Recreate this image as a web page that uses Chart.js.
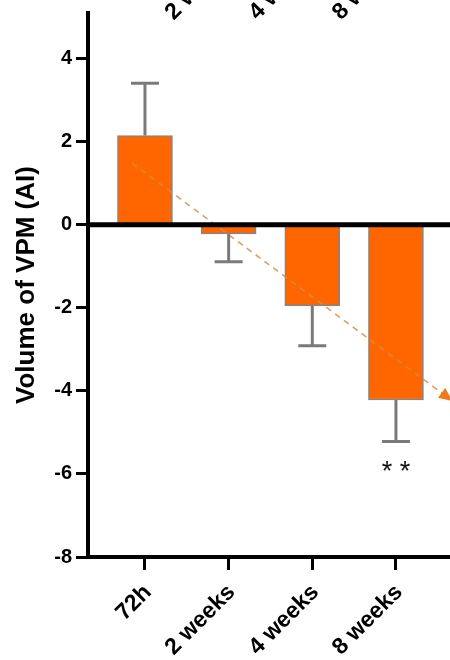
<!DOCTYPE html>
<html>
<head>
<meta charset="utf-8">
<script src="https://cdn.jsdelivr.net/npm/chart.js@4.4.1/dist/chart.umd.min.js"></script>
<style>
  html, body { margin: 0; padding: 0; background: #fff; }
  #wrap { width: 450px; height: 660px; }
</style>
</head>
<body>
<div id="wrap"><canvas id="vpmChart" width="450" height="660"></canvas></div>
<script>
// values
const timepoints = ['72h', '2 weeks', '4 weeks', '8 weeks'];
const vpmMean = [2.15, -0.22, -1.95, -4.22];
const vpmErr = [1.26, 0.67, 0.96, 1.0];
const significance = ['', '', '', '* *'];
const yTicks = [-8, -6, -4, -2, 0, 2, 4];
// dashed trend arrow: start and tip
const trendX = [0.845, 4.68];
const trendY = [1.49, -4.25];

const FONT = "'Liberation Sans', Arial, Helvetica, sans-serif";

// thick black line at y = 0
const zeroLine = {
  id: 'zeroLine',
  afterDatasetsDraw(chart) {
    const { ctx, chartArea, scales } = chart;
    const y0 = scales.y.getPixelForValue(0);
    ctx.save();
    ctx.strokeStyle = '#000';
    ctx.lineWidth = 5;
    ctx.beginPath();
    ctx.moveTo(chartArea.left, y0);
    ctx.lineTo(chartArea.right + 5, y0);
    ctx.stroke();
    ctx.restore();
  }
};

// one-sided error bars + stars (bars are dataset 1)
const errorBars = {
  id: 'errorBars',
  afterDatasetsDraw(chart) {
    const { ctx, scales } = chart;
    const meta = chart.getDatasetMeta(1);
    ctx.save();
    meta.data.forEach((bar, i) => {
      const dir = vpmMean[i] >= 0 ? 1 : -1;
      const yEnd = scales.y.getPixelForValue(vpmMean[i] + dir * vpmErr[i]);
      ctx.strokeStyle = '#7a7a7a';
      ctx.lineWidth = 3;
      ctx.beginPath();
      ctx.moveTo(bar.x, bar.y);
      ctx.lineTo(bar.x, yEnd);
      ctx.moveTo(bar.x - 14, yEnd);
      ctx.lineTo(bar.x + 14, yEnd);
      ctx.stroke();
      if (significance[i]) {
        ctx.fillStyle = '#111';
        ctx.font = '27px ' + FONT;
        ctx.textAlign = 'center';
        ctx.textBaseline = 'alphabetic';
        ctx.fillText(significance[i], bar.x, yEnd + 38);
      }
    });
    ctx.restore();
  }
};

// arrowhead at the end of the trend line
const arrowHead = {
  id: 'arrowHead',
  afterDraw(chart) {
    const { ctx, scales } = chart;
    const x0 = scales.x.getPixelForValue(trendX[0]);
    const y0 = scales.y.getPixelForValue(trendY[0]);
    const x1 = scales.x.getPixelForValue(trendX[1]);
    const y1 = scales.y.getPixelForValue(trendY[1]);
    const a = Math.atan2(y1 - y0, x1 - x0);
    const len = 14, half = 6;
    ctx.save();
    ctx.translate(x1, y1);
    ctx.rotate(a);
    ctx.fillStyle = '#ee7a1c';
    ctx.beginPath();
    ctx.moveTo(0, 0);
    ctx.lineTo(-len, -half);
    ctx.lineTo(-len, half);
    ctx.closePath();
    ctx.fill();
    ctx.restore();
  }
};

// bottom labels of the panel above, cut off at the top edge
const panelAbove = {
  id: 'panelAbove',
  afterDraw(chart) {
    const { ctx } = chart;
    const items = chart.scales.x.getLabelItems();
    ctx.save();
    items.forEach(item => {
      const o = item.options;
      ctx.save();
      ctx.translate(o.translation[0], o.translation[1] - 635);
      ctx.rotate(o.rotation);
      ctx.font = item.font.string;
      ctx.fillStyle = '#000';
      ctx.textAlign = o.textAlign;
      ctx.textBaseline = o.textBaseline;
      ctx.fillText(item.label, 0, item.textOffset);
      ctx.restore();
    });
    ctx.restore();
  }
};

const ctx = document.getElementById('vpmChart').getContext('2d');
new Chart(ctx, {
  type: 'bar',
  data: {
    datasets: [{
      type: 'line',
      data: trendX.map((x, i) => ({ x: x, y: trendY[i] })),
      borderColor: 'rgba(214, 140, 70, 0.85)',
      borderWidth: 1.6,
      borderDash: [6, 5],
      pointRadius: 0,
      fill: false,
      order: 0
    }, {
      data: vpmMean.map((v, i) => ({ x: i + 1, y: v })),
      backgroundColor: '#ff6600',
      borderColor: '#858585',
      borderWidth: 1.5,
      borderSkipped: false,
      barThickness: 55,
      order: 1
    }]
  },
  options: {
    responsive: false,
    animation: false,
    layout: { padding: { top: 13, right: 0, bottom: 0, left: 0 } },
    plugins: { legend: { display: false }, tooltip: { enabled: false } },
    scales: {
      x: {
        type: 'linear',
        min: 0.319,
        max: 4.646,
        offset: false,
        afterBuildTicks: s => { s.ticks = timepoints.map((t, i) => ({ value: i + 1 })); },
        afterFit: s => { s.height = 103; s.paddingLeft = 0; s.paddingRight = 0; },
        border: { color: '#000', width: 4 },
        grid: { offset: false, drawOnChartArea: false, tickLength: 13, tickWidth: 3, tickColor: '#000' },
        ticks: {
          autoSkip: false,
          minRotation: 45,
          maxRotation: 45,
          padding: 9,
          labelOffset: 3,
          color: '#000',
          font: { family: FONT, size: 23, weight: 'bold' },
          callback: (v, i) => timepoints[i]
        }
      },
      y: {
        min: -8,
        max: 5.1,
        afterBuildTicks: s => { s.ticks = yTicks.map(v => ({ value: v })); },
        afterFit: s => { s.width = 88; s.paddingTop = 0; s.paddingBottom = 0; },
        border: { color: '#000', width: 4 },
        grid: { drawOnChartArea: false, tickLength: 12, tickWidth: 3, tickColor: '#000' },
        ticks: { color: '#000', padding: 4, font: { family: FONT, size: 20, weight: 'bold' } },
        title: {
          display: true,
          text: 'Volume of VPM (AI)',
          color: '#000',
          font: { family: FONT, size: 26, weight: 'bold' },
          padding: { top: 11, bottom: 0 }
        }
      }
    }
  },
  plugins: [zeroLine, errorBars, arrowHead, panelAbove]
});
</script>
</body>
</html>
